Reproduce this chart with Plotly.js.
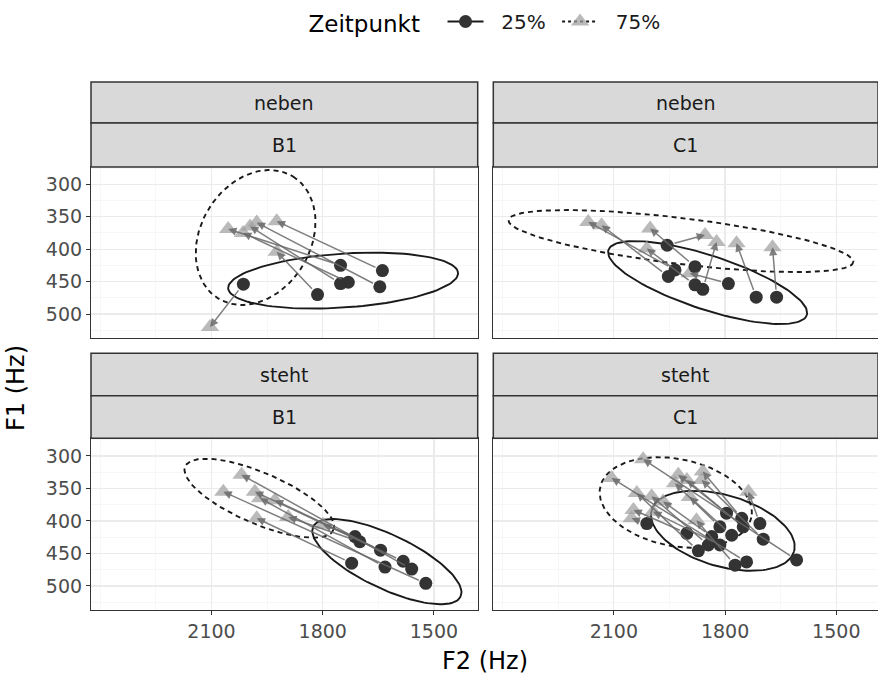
<!DOCTYPE html>
<html><head><meta charset="utf-8">
<script src="https://cdn.plot.ly/plotly-3.0.1.min.js"></script>
<style>html,body{margin:0;padding:0;background:#fff}</style>
</head><body><div id="chart" style="width:878px;height:676px"></div>
<script>
// ---------- data ----------
const rowLabels = ['neben', 'steht'];
const colLabels = ['B1', 'C1'];
const seriesNames = ['25%', '75%'];
const xTickVals = [2100, 1800, 1500];
const yTickVals = [300, 350, 400, 450, 500];

// neben / B1
const nbF2_25 = [2014, 1814, 1752, 1752, 1731, 1639, 1646];
const nbF1_25 = [454, 470, 425, 453, 451, 433, 458];
const nbF2_75 = [2104, 1924, 2055, 1996, 2015, 1924, 1978];
const nbF1_75 = [520, 404, 369, 365, 375, 357, 359];
// neben / C1
const ncF2_25 = [1956, 1716, 1661, 1791, 1860, 1881, 1935, 1953, 1881];
const ncF1_25 = [394, 474, 474, 453, 462, 455, 432, 442, 427];
const ncF2_75 = [1854, 1769, 1672, 1895, 1823, 2011, 2169, 2133, 2002];
const ncF1_75 = [378, 391, 397, 437, 389, 399, 358, 363, 368];
// steht / B1
const sbF2_25 = [1713, 1700, 1722, 1644, 1632, 1583, 1560, 1522];
const sbF1_25 = [424, 432, 465, 445, 471, 462, 474, 496];
const sbF2_75 = [1799, 1893, 1978, 1929, 1969, 1983, 2019, 2068];
const sbF1_75 = [406, 394, 396, 368, 365, 355, 329, 355];
// steht / C1
const scF2_25 = [2011, 1903, 1872, 1845, 1836, 1814, 1814, 1796, 1782, 1755, 1751, 1706, 1697, 1773, 1742, 1607];
const scF1_25 = [404, 419, 446, 437, 424, 437, 409, 388, 422, 396, 409, 404, 428, 468, 463, 460];
const scF2_75 = [2052, 2047, 2038, 1998, 1967, 1994, 1935, 1926, 1895, 1860, 1903, 1737, 1863, 1877, 2106, 2021];
const scF1_75 = [396, 383, 357, 362, 370, 386, 342, 329, 363, 324, 337, 355, 337, 399, 334, 305];

// ellipse: [centre F2, centre F1, axis1 dF2, axis1 dF1, axis2 dF2, axis2 dF1]
const nbEll25 = [1745, 448.5, -310, -12, 4.9, -41.5];
const nbEll75 = [1981, 382, -101, -94, -126, 44.6];
const ncEll25 = [1847, 451.5, -267.5, 50.2, 22.7, 39.6];
const ncEll75 = [1919, 387.5, -465, 32.4, 7.6, 35.2];
const sbEll25 = [1627, 462.6, -198.8, 53.8, 31.3, 37.5];
const sbEll75 = [1971, 365, -200, 48.8, 27, 36.2];
const scEll25 = [1806, 415.1, -192, 32, 27, 52.6];
const scEll75 = [1933, 371.6, -204, 23.1, 22.9, 65.8];

// ---------- layout helpers ----------
const W = 878, H = 676;
const FONT = 'DejaVu Sans, Liberation Sans, Arial, sans-serif';
const px2x = p => p / W, px2y = p => 1 - p / H;

const colDom = [[91, 477.7], [493.3, 878]];
const rowDom = [[167, 338], [438.3, 610]];
const xRanges = [[2425, 1382], [2425, 1387.5]];
const yRanges = [[537, 273.3], [537, 272.8]];
const stripTop = [[82, 123], [353.3, 395.7]];

const panels = [
  {r:0, c:0, ax:'', F2a:nbF2_25, F1a:nbF1_25, F2b:nbF2_75, F1b:nbF1_75, e1:nbEll25, e2:nbEll75},
  {r:0, c:1, ax:'2', F2a:ncF2_25, F1a:ncF1_25, F2b:ncF2_75, F1b:ncF1_75, e1:ncEll25, e2:ncEll75},
  {r:1, c:0, ax:'3', F2a:sbF2_25, F1a:sbF1_25, F2b:sbF2_75, F1b:sbF1_75, e1:sbEll25, e2:sbEll75},
  {r:1, c:1, ax:'4', F2a:scF2_25, F1a:scF1_25, F2b:scF2_75, F1b:scF1_75, e1:scEll25, e2:scEll75}
];

function ellipse(p) {
  const xs = [], ys = [];
  for (let i = 0; i <= 120; i++) {
    const t = i / 120 * 2 * Math.PI;
    xs.push(p[0] + p[2] * Math.cos(t) + p[4] * Math.sin(t));
    ys.push(p[1] + p[3] * Math.cos(t) + p[5] * Math.sin(t));
  }
  return {xs, ys};
}

const DARK = '#333333';
const TRI = 'rgba(160,160,160,0.72)';
const NB = '\u00a0';
const traces = [], annotations = [], shapes = [];
const layout = {
  width: W, height: H,
  margin: {l:0, r:0, t:0, b:0},
  paper_bgcolor: '#fff', plot_bgcolor: '#fff',
  font: {family: FONT, color: '#4D4D4D'},
  showlegend: true,
  legend: {
    orientation: 'h', x: px2x(486), xanchor: 'center', y: 1 - 2/H, yanchor: 'top',
    title: {text: 'Zeitpunkt' + NB + NB, side: 'left', font: {size: 23, color: '#000', family: FONT}},
    font: {size: 20, color: '#1A1A1A', family: FONT},
    bgcolor: 'rgba(0,0,0,0)', itemwidth: 36, tracegroupgap: 0
  }
};

panels.forEach(P => {
  const xa = 'x' + P.ax, ya = 'y' + P.ax;
  const xKey = 'xaxis' + P.ax, yKey = 'yaxis' + P.ax;
  const showX = P.r === 1, showY = P.c === 0;
  layout[xKey] = {
    domain: colDom[P.c].map(px2x), anchor: ya, range: xRanges[P.c], autorange: false,
    tickmode: 'array', tickvals: xTickVals, ticktext: xTickVals.map(String),
    showticklabels: showX, ticks: showX ? 'outside' : '', ticklen: 4, tickcolor: '#333333', tickwidth: 1,
    tickfont: {size: 19, color: '#4D4D4D', family: FONT},
    showgrid: true, gridcolor: '#EBEBEB', gridwidth: 1.1,
    minor: {tickmode: 'linear', tick0: 1350, dtick: 150, showgrid: true, gridcolor: '#F2F2F2', gridwidth: 0.6, ticks: ''},
    zeroline: false, showline: true, mirror: true, linecolor: '#333333', linewidth: 1.1,
    automargin: false, fixedrange: true
  };
  layout[yKey] = {
    domain: [px2y(rowDom[P.r][1]), px2y(rowDom[P.r][0])], anchor: xa, range: yRanges[P.r], autorange: false,
    tickmode: 'array', tickvals: yTickVals, ticktext: yTickVals.map(String),
    showticklabels: showY, ticks: showY ? 'outside' : '', ticklen: 4, tickcolor: '#333333', tickwidth: 1,
    tickfont: {size: 19, color: '#4D4D4D', family: FONT},
    showgrid: true, gridcolor: '#EBEBEB', gridwidth: 1.1,
    minor: {tickmode: 'linear', tick0: 275, dtick: 50, showgrid: true, gridcolor: '#F2F2F2', gridwidth: 0.6, ticks: ''},
    zeroline: false, showline: true, mirror: true, linecolor: '#333333', linewidth: 1.1,
    automargin: false, fixedrange: true
  };

  const e1 = ellipse(P.e1), e2 = ellipse(P.e2);
  traces.push({type:'scatter', mode:'lines', x:e1.xs, y:e1.ys, xaxis:xa, yaxis:ya, showlegend:false, hoverinfo:'skip',
    line:{color:'#1A1A1A', width:1.9, dash:'solid'}});
  traces.push({type:'scatter', mode:'lines', x:e2.xs, y:e2.ys, xaxis:xa, yaxis:ya, showlegend:false, hoverinfo:'skip',
    line:{color:'#1A1A1A', width:1.9, dash:'5px,4px'}});
  traces.push({type:'scatter', mode:'markers', x:P.F2b, y:P.F1b, xaxis:xa, yaxis:ya, showlegend:false,
    marker:{symbol:'triangle-up', size:16, color:TRI, line:{width:0}}});
  traces.push({type:'scatter', mode:'markers', x:P.F2a, y:P.F1a, xaxis:xa, yaxis:ya, showlegend:false,
    marker:{symbol:'circle', size:13, color:DARK, line:{width:0}}});

  for (let i = 0; i < P.F2a.length; i++) {
    annotations.push({
      xref: xa, yref: ya, axref: xa, ayref: ya,
      x: P.F2b[i], y: P.F1b[i], ax: P.F2a[i], ay: P.F1a[i],
      text: '', showarrow: true, arrowhead: 2, arrowsize: 1.1, arrowwidth: 1.5,
      arrowcolor: 'rgba(105,105,105,0.85)', standoff: 0, startstandoff: 6
    });
  }
});

// legend-only traces
traces.push({type:'scatter', mode:'lines+markers', x:[null], y:[null], name: NB + NB + seriesNames[0] + NB,
  line:{color:'#1A1A1A', width:1.9, dash:'solid'}, marker:{symbol:'circle', size:13, color:DARK}});
traces.push({type:'scatter', mode:'lines+markers', x:[null], y:[null], name: NB + NB + seriesNames[1],
  line:{color:'#1A1A1A', width:1.9, dash:'3px,3px'}, marker:{symbol:'triangle-up', size:16, color:TRI}});

// strips
for (let r = 0; r < 2; r++) {
  for (let c = 0; c < 2; c++) {
    const x0 = px2x(colDom[c][0]), x1 = px2x(colDom[c][1]);
    const bands = [[stripTop[r][0], stripTop[r][1], rowLabels[r]], [stripTop[r][1], rowDom[r][0], colLabels[c]]];
    bands.forEach(b => {
      shapes.push({type:'rect', xref:'paper', yref:'paper', x0:x0, x1:x1, y0:px2y(b[1]), y1:px2y(b[0]),
        fillcolor:'#D9D9D9', line:{color:'#333333', width:1.5}, layer:'above'});
      annotations.push({xref:'paper', yref:'paper', x:(x0 + x1) / 2, y:px2y((b[0] + b[1]) / 2),
        xanchor:'center', yanchor:'middle', text:b[2], showarrow:false,
        font:{size:19, color:'#1A1A1A', family:FONT}});
    });
  }
}

// axis titles
annotations.push({xref:'paper', yref:'paper', x:px2x(485), y:px2y(661), text:'F2 (Hz)', showarrow:false,
  xanchor:'center', yanchor:'middle', font:{size:24, color:'#000', family:FONT}});
annotations.push({xref:'paper', yref:'paper', x:px2x(16), y:px2y(388), text:'F1 (Hz)', showarrow:false, textangle:-90,
  xanchor:'center', yanchor:'middle', font:{size:24, color:'#000', family:FONT}});

layout.annotations = annotations;
layout.shapes = shapes;

Plotly.newPlot('chart', traces, layout, {displayModeBar:false, staticPlot:true});
</script></body></html>
